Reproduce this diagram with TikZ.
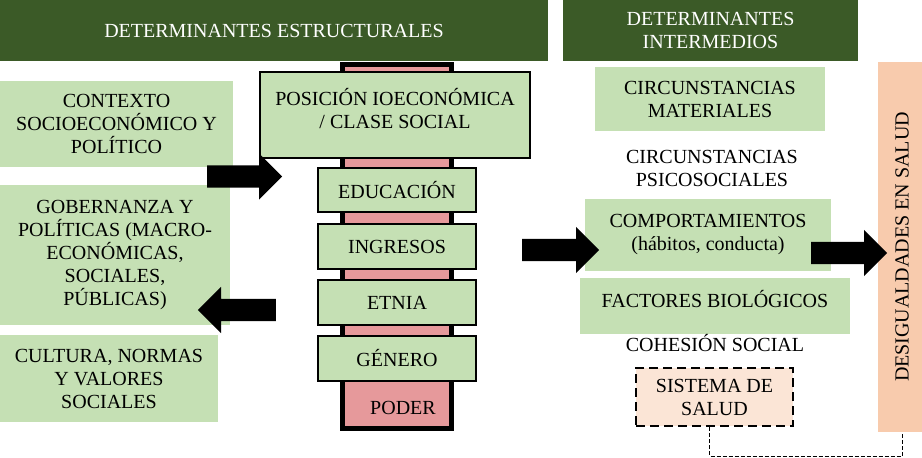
\documentclass[tikz,border=0pt]{standalone}
\usepackage{fontspec}
\setmainfont{Liberation Serif}
\usetikzlibrary{shapes.arrows}
\definecolor{hdgreen}{HTML}{3B5A27}
\definecolor{lgreen}{HTML}{C5E0B4}
\definecolor{pillarpink}{HTML}{E6999B}
\definecolor{peach}{HTML}{F8CBAD}
\definecolor{lpeach}{HTML}{FBE5D6}
\begin{document}
\begin{tikzpicture}[x=1pt,y=-1pt,
    every node/.style={font=\fontsize{20}{23}\selectfont, align=center, inner sep=0pt},
    header/.style={fill=hdgreen, text=white},
    gbox/.style={fill=lgreen},
    fbox/.style={fill=lgreen, draw=black, line width=1.5pt},
    barrow/.style={single arrow, fill=black, inner xsep=0pt, inner ysep=11pt, minimum width=46pt, single arrow head extend=12pt}]
    \useasboundingbox (0,0) rectangle (922,458);
    \node[header, minimum width=548pt, minimum height=61pt] (hest) at (274,30.5) {DETERMINANTES ESTRUCTURALES};
    \node[header, minimum width=295pt, minimum height=61pt] (hint) at (710.5,30.5) {DETERMINANTES\\INTERMEDIOS};
    \node[gbox, minimum width=233pt, minimum height=86pt] (ctx) at (116.5,124) {CONTEXTO\\SOCIOECONÓMICO Y\\POLÍTICO};
    \node[gbox, minimum width=230pt, minimum height=140pt] (gob) at (115,255) {GOBERNANZA Y\\POLÍTICAS (MACRO-\\ECONÓMICAS,\\SOCIALES,\\PÚBLICAS)};
    \node[gbox, minimum width=218pt, minimum height=87pt] (cul) at (109,378.5) {CULTURA, NORMAS\\Y VALORES\\SOCIALES};
    \node[draw=black, line width=5pt, fill=pillarpink, minimum width=109pt, minimum height=364pt] (pillar) at (397,246.5) {};
    \node[fbox, minimum width=270pt, minimum height=86pt] (pos) at (395,115) {};
    \node (posl) at ([yshift=6.5pt]pos.center) {POSICIÓN IOECONÓMICA\\/ CLASE SOCIAL};
    \node[fbox, minimum width=158pt, minimum height=44pt] (edu) at (397,190) {EDUCACIÓN};
    \node[fbox, minimum width=158pt, minimum height=45pt] (ing) at (397,246.5) {INGRESOS};
    \node[fbox, minimum width=158pt, minimum height=45pt] (etn) at (397,302.5) {ETNIA};
    \node[fbox, minimum width=158pt, minimum height=45pt] (gen) at (397,358.5) {GÉNERO};
    \node (pod) at (403,408) {PODER};
    \node[gbox, minimum width=230pt, minimum height=64pt] (cmat) at (710,99) {CIRCUNSTANCIAS\\MATERIALES};
    \node (cpsi) at (712,168.5) {CIRCUNSTANCIAS\\PSICOSOCIALES};
    \node[gbox, minimum width=246pt, minimum height=72pt] (comp) at (708,235) {COMPORTAMIENTOS\\(hábitos, conducta)};
    \node[gbox, minimum width=270pt, minimum height=56pt] (fbio) at (715,306) {};
    \node (fbiol) at ([yshift=7pt]fbio.center) {FACTORES BIOLÓGICOS};
    \node (coh) at (715,343) {COHESIÓN SOCIAL};
    \node[fill=lpeach, draw=black, line width=2pt, dash pattern=on 9pt off 5pt, minimum width=157pt, minimum height=58pt] (sis) at (714.5,397) {SISTEMA DE\\SALUD};
    \node[fill=peach, rotate=90, minimum width=370pt, minimum height=48pt] (des) at (902,247) {DESIGUALDADES EN SALUD};
    \draw[line width=1pt, dash pattern=on 4pt off 2pt] ([xshift=-5pt]sis.south) -- ++(0,29) -| (des.west);
    \node[barrow, minimum height=75pt, anchor=tail] (a1) at (207,176.5) {};
    \node[barrow, minimum height=78pt, shape border rotate=180, anchor=tail] (a2) at (276,310) {};
    \node[barrow, minimum height=77pt, anchor=tail] (a3) at (522,250) {};
    \node[barrow, minimum height=76pt, anchor=tail] (a4) at (811,253) {};
\end{tikzpicture}
\end{document}
